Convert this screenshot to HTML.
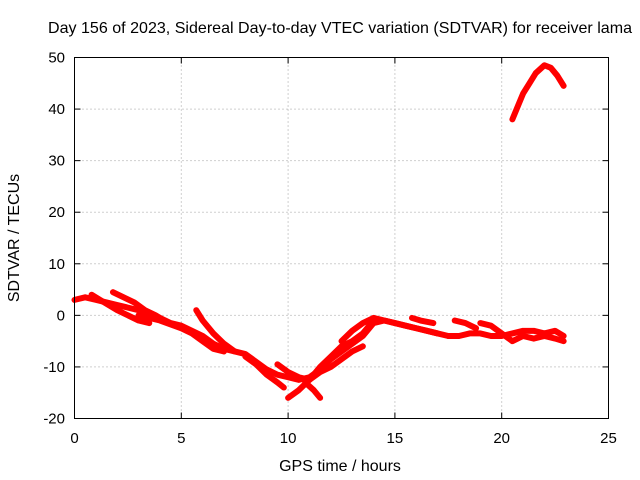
<!DOCTYPE html>
<html><head><meta charset="utf-8"><style>
body{margin:0;background:#fff}
svg{display:block;font-family:"Liberation Sans",sans-serif}
</style></head><body>
<svg id="chart" width="640" height="480">
<text x="340" y="33" text-anchor="middle" font-size="16" textLength="584" lengthAdjust="spacingAndGlyphs">Day 156 of 2023, Sidereal Day-to-day VTEC variation (SDTVAR) for receiver lama</text>
<text x="340" y="471" text-anchor="middle" font-size="16">GPS time / hours</text>
<text transform="translate(19,238) rotate(-90)" text-anchor="middle" font-size="16">SDTVAR / TECUs</text>
<g id="grid"></g><g id="ticks"></g><g id="series"></g>
<rect x="74.5" y="57.5" width="534" height="361" fill="none" stroke="#000"/>
</svg>
<script>
const xTicks=[0,5,10,15,20,25];
const yTicks=[-20,-10,0,10,20,30,40,50];
const t1=[[0,3],[0.5,3.5],[1,3],[1.5,2.5],[2,2],[2.5,1.5],[3,1],[3.5,0.5],[4,-0.5],[4.5,-1.5],[5,-2],[5.5,-3],[6,-4],[6.5,-5.5],[7,-6.5],[7.5,-7],[8,-7.5],[8.5,-9],[9,-10.5],[9.5,-11.5],[10,-12],[10.5,-12.5],[11,-12],[11.5,-10.5],[12,-8.5],[12.5,-7],[13,-5.5],[13.5,-4],[14,-1.5],[14.5,-1],[15,-1.5],[15.5,-2],[16,-2.5],[16.5,-3],[17,-3.5]];
const t2=[[0.8,4],[1.2,3],[1.6,2],[2,1],[2.5,0],[3,-1],[3.5,-1.5]];
const t3=[[1.8,4.5],[2.3,3.5],[2.8,2.5],[3.3,1],[3.8,0],[4.2,-1]];
const t4=[[3,0],[4,-1],[5,-2.5],[5.5,-3.5],[6,-5],[6.5,-6.5],[7,-7]];
const t5=[[5.7,1],[6,-1],[6.5,-3.5],[7,-5.5],[7.5,-7]];
const t6=[[8,-8],[8.5,-9.5],[9,-11.5],[9.5,-13],[9.8,-14]];
const t7=[[9.5,-9.5],[10,-11],[10.5,-12],[11,-12.5],[11.5,-11],[12,-10],[12.5,-8.5],[13,-7],[13.5,-6]];
const t8=[[10,-16],[10.5,-14.5],[11,-12.5],[11.5,-10],[12,-8],[12.5,-6],[13,-5],[13.5,-3.5],[14,-1]];
const t9=[[10.8,-13],[11.2,-14.5],[11.5,-16]];
const t10=[[12.5,-5],[13,-3],[13.5,-1.5],[14,-0.5],[14.5,-1],[15,-1.5],[15.5,-2],[16,-2.5],[16.5,-3],[17,-3.5],[17.5,-4]];
const t11=[[15.8,-0.5],[16.2,-1],[16.8,-1.5]];
const t12=[[17.5,-4],[18,-4],[18.5,-3.5],[19,-3.5],[19.5,-4],[20,-4],[20.5,-3.5],[21,-3],[21.5,-3],[22,-3.5],[22.5,-3],[22.9,-4]];
const t13=[[17.8,-1],[18.3,-1.5],[18.8,-2.5]];
const t14=[[19,-1.5],[19.5,-2],[20,-3.5],[20.5,-5],[21,-4],[21.5,-4.5],[22,-4],[22.5,-4.5],[22.9,-5]];
const t15=[[20.5,38],[20.8,41],[21,43],[21.3,45],[21.6,47],[22,48.5],[22.3,48],[22.6,46.5],[22.9,44.5]];
const tracks=[t1,t2,t3,t4,t5,t6,t7,t8,t9,t10,t11,t12,t13,t14,t15];
const X0=74.5,X1=608.5,Y0=418.5,Y1=57.5;
const sx=v=>X0+(v-0)/(25-0)*(X1-X0);
const sy=v=>Y0-(v+20)/(70)*(Y0-Y1);
const NS="http://www.w3.org/2000/svg";
const grid=document.getElementById('grid'),ticks=document.getElementById('ticks'),ser=document.getElementById('series');
function mk(tag,attrs,parent){const e=document.createElementNS(NS,tag);for(const k in attrs)e.setAttribute(k,attrs[k]);parent.appendChild(e);return e;}
xTicks.forEach(v=>{const x=sx(v);
 if(v>0&&v<25){const g=mk('line',{x1:x,x2:x,y1:Y0,y2:Y1,stroke:'#a0a0a0','stroke-dasharray':'1,3'},grid);
 
 }
 mk('line',{x1:x,x2:x,y1:Y0,y2:Y0-6,stroke:'#000'},ticks);
 mk('line',{x1:x,x2:x,y1:Y1,y2:Y1+6,stroke:'#000'},ticks);
 const t=mk('text',{x:x,y:443,'text-anchor':'middle','font-size':15},ticks);t.textContent=v;
 
 });
yTicks.forEach(v=>{const y=sy(v);
 if(v>-20&&v<50){const g=mk('line',{x1:X0,x2:X1,y1:y,y2:y,stroke:'#a0a0a0','stroke-dasharray':'1,3'},grid);
 
 }
 mk('line',{x1:X0,x2:X0+6,y1:y,y2:y,stroke:'#000'},ticks);
 mk('line',{x1:X1,x2:X1-6,y1:y,y2:y,stroke:'#000'},ticks);
 const t=mk('text',{x:65,y:y+5,'text-anchor':'end','font-size':15},ticks);t.textContent=v;
 
 });
tracks.forEach(tr=>{
 const p=mk('polyline',{points:tr.map(d=>sx(d[0])+','+sy(d[1])).join(' '),fill:'none',stroke:'#f00','stroke-width':6,'stroke-linejoin':'round','stroke-linecap':'round'},ser);
 
 
});
</script>
</body></html>
